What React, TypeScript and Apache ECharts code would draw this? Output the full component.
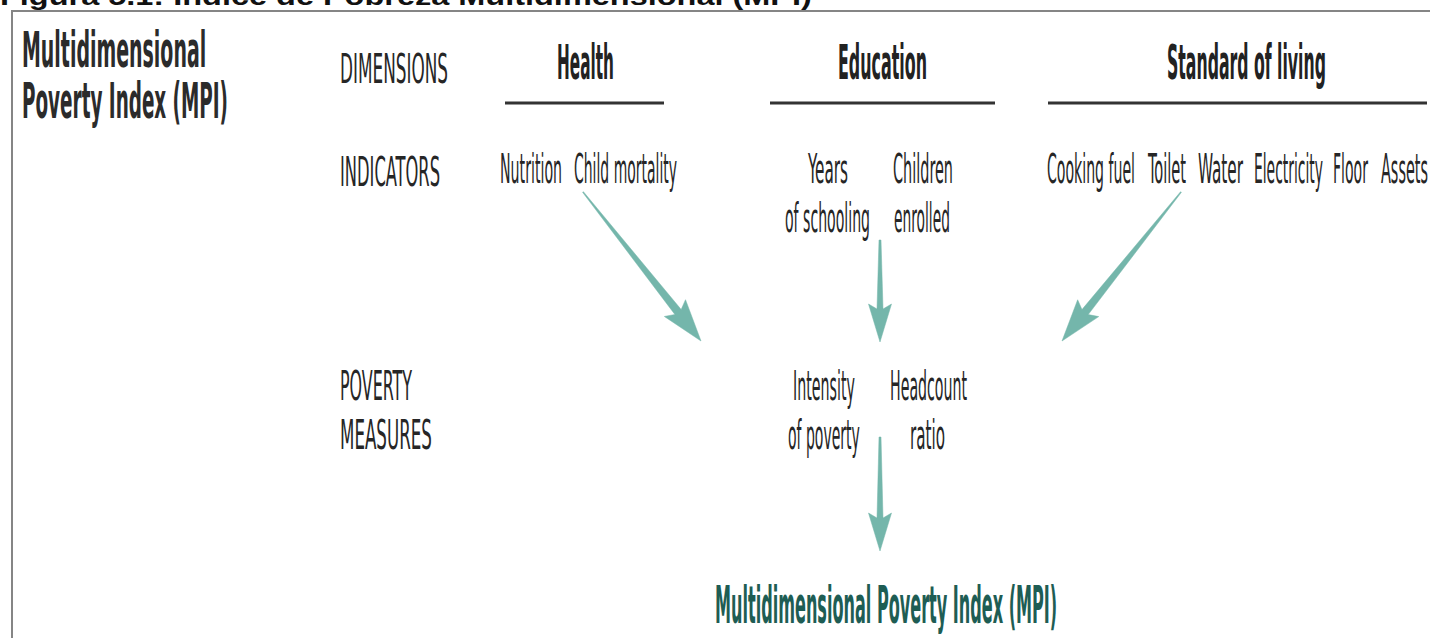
import React, { useEffect, useRef } from "react";
import * as echarts from "echarts";

// ---- content ----
const figureTitle = "Figura 5.1: Índice de Pobreza Multidimensional (MPI)";
const indexTitle = ["Multidimensional", "Poverty Index (MPI)"];
const rowLabels = ["DIMENSIONS", "INDICATORS", "POVERTY", "MEASURES"];
const dimensions = ["Health", "Education", "Standard of living"];
const healthIndicators = ["Nutrition", "Child mortality"];
const educationIndicators = ["Years", "of schooling", "Children", "enrolled"];
const livingIndicators = ["Cooking fuel", "Toilet", "Water", "Electricity", "Floor", "Assets"];
const povertyMeasures = ["Intensity", "of poverty", "Headcount", "ratio"];
const resultLabel = "Multidimensional Poverty Index (MPI)";

// ---- layout (left, right, vertical centre of caps, cap height) ----
type Box = [number, number, number, number];
const titleBox: Box = [0, 812, -4, 18];
const indexTitleBoxes: Box[] = [
  [22, 206, 50, 35],
  [22, 228, 101, 35],
];
const rowLabelBoxes: Box[] = [
  [340, 448, 69, 29],
  [340, 440, 172, 29],
  [340, 412, 386, 29],
  [340, 432, 435, 29],
];
const dimensionBoxes: Box[] = [
  [557, 614, 62, 34],
  [838, 927, 62, 34],
  [1167, 1326, 62, 34],
];
const dimensionRules: [number, number][] = [
  [505, 664],
  [770, 995],
  [1048, 1427],
];
const RULE_Y = 103;
const healthBoxes: Box[] = [
  [500, 562, 169, 29],
  [574, 677, 169, 29],
];
const educationBoxes: Box[] = [
  [808, 848, 169, 29],
  [785, 870, 218, 29],
  [893, 953, 169, 29],
  [894, 950, 218, 29],
];
const livingBoxes: Box[] = [
  [1047, 1135, 169, 29],
  [1148, 1186, 169, 29],
  [1198, 1243, 169, 29],
  [1254, 1323, 169, 29],
  [1333, 1368, 169, 29],
  [1381, 1428, 169, 29],
];
const measureBoxes: Box[] = [
  [793, 855, 386, 29],
  [788, 860, 435, 29],
  [890, 967, 386, 29],
  [910, 945, 435, 29],
];
const resultBox: Box = [715, 1057, 605, 37];

// arrows: start, tip, start width, shaft width, head length, head width
type Arrow = [number, number, number, number, number, number, number, number];
const arrows: Arrow[] = [
  [583, 192, 701, 341, 1, 8, 42, 27],
  [880, 240, 880, 342, 2, 6, 38, 23],
  [1181, 192, 1062, 341, 1, 8, 42, 27],
  [880, 437, 880, 551, 2, 6, 38, 23],
];

const NARROW = '"Liberation Sans Narrow", "DejaVu Sans Condensed", "Liberation Sans", sans-serif';
const WIDE = '"Liberation Sans", Arial, sans-serif';
const CAP = 0.716;
const INK = "#262626";
const TEAL = "#74b6ab";
const DEEP_TEAL = "#1e5d54";

let measureCtx: CanvasRenderingContext2D | null = null;
function measure(text: string, font: string): number {
  if (!measureCtx) measureCtx = document.createElement("canvas").getContext("2d");
  measureCtx!.font = font;
  return measureCtx!.measureText(text).width;
}

function label(text: string, box: Box, weight = "normal", color = INK, family = NARROW) {
  const [left, right, cy, cap] = box;
  const fs = Math.round((cap / CAP) * 10) / 10;
  const font = `${weight} ${fs}px ${family}`;
  const w = measure(text, font);
  const sx = w > 0 ? (right - left) / w : 1;
  return {
    type: "text",
    x: left,
    y: cy,
    scaleX: sx,
    silent: true,
    style: {
      text,
      font,
      fill: color,
      align: "left",
      verticalAlign: "middle",
    },
  };
}

function arrowShape(a: Arrow) {
  const [x0, y0, x1, y1, w0, w1, L, W] = a;
  const len = Math.hypot(x1 - x0, y1 - y0);
  const dx = (x1 - x0) / len;
  const dy = (y1 - y0) / len;
  const nx = -dy;
  const ny = dx;
  const bx = x1 - dx * L;
  const by = y1 - dy * L;
  const notch = 5;
  const cx = bx + dx * notch;
  const cy = by + dy * notch;
  const pts = [
    [x0 + (nx * w0) / 2, y0 + (ny * w0) / 2],
    [cx + (nx * w1) / 2, cy + (ny * w1) / 2],
    [bx + (nx * W) / 2, by + (ny * W) / 2],
    [x1, y1],
    [bx - (nx * W) / 2, by - (ny * W) / 2],
    [cx - (nx * w1) / 2, cy - (ny * w1) / 2],
    [x0 - (nx * w0) / 2, y0 - (ny * w0) / 2],
  ];
  return {
    type: "polygon",
    silent: true,
    shape: { points: pts },
    style: { fill: TEAL, stroke: TEAL, lineWidth: 0.5 },
  };
}

export default function App() {
  const ref = useRef<HTMLDivElement>(null);
  useEffect(() => {
    if (!ref.current) return;
    const chart = echarts.init(ref.current, undefined, { renderer: "svg" });
    const elements: any[] = [];

    // frame
    elements.push({
      type: "polyline",
      silent: true,
      shape: { points: [[12, 640], [12, 11], [1432, 11]] },
      style: { stroke: "#858585", lineWidth: 2, fill: null },
    });

    elements.push(label(figureTitle, titleBox, "bold", "#111", WIDE));
    indexTitle.forEach((t, i) => elements.push(label(t, indexTitleBoxes[i], "bold", "#2b2b2b")));
    rowLabels.forEach((t, i) => elements.push(label(t, rowLabelBoxes[i])));
    dimensions.forEach((t, i) => elements.push(label(t, dimensionBoxes[i], "bold", "#222")));
    dimensionRules.forEach(([a, b]) =>
      elements.push({
        type: "line",
        silent: true,
        shape: { x1: a, y1: RULE_Y, x2: b, y2: RULE_Y },
        style: { stroke: "#333", lineWidth: 3 },
      })
    );
    healthIndicators.forEach((t, i) => elements.push(label(t, healthBoxes[i])));
    educationIndicators.forEach((t, i) => elements.push(label(t, educationBoxes[i])));
    livingIndicators.forEach((t, i) => elements.push(label(t, livingBoxes[i])));
    povertyMeasures.forEach((t, i) => elements.push(label(t, measureBoxes[i])));
    arrows.forEach((a) => elements.push(arrowShape(a)));
    elements.push(label(resultLabel, resultBox, "bold", DEEP_TEAL));

    chart.setOption({
      animation: false,
      backgroundColor: "#ffffff",
      graphic: { elements },
    });
    return () => chart.dispose();
  }, []);
  return (
    <div
      ref={ref}
      style={{ position: "fixed", left: 0, top: 0, width: 1430, height: 638, overflow: "hidden" }}
    />
  );
}
